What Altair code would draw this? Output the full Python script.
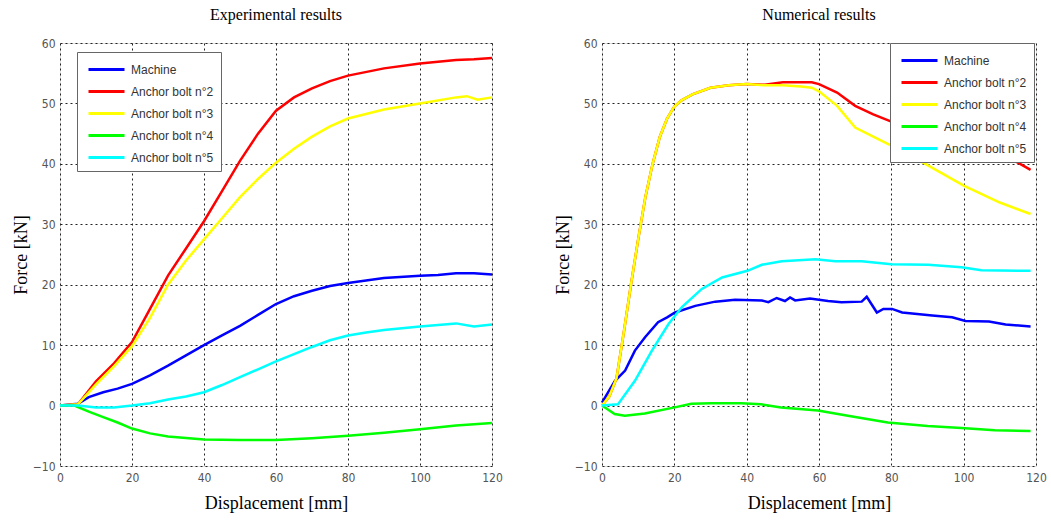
import altair as alt
import pandas as pd

SERIES = ["Machine", "Anchor bolt n°2", "Anchor bolt n°3", "Anchor bolt n°4", "Anchor bolt n°5"]
COLORS = ["#0000FF", "#FF0000", "#FFFF00", "#00FF00", "#00FFFF"]

# ---- Experimental results ----
exp_machine_x = [0, 5, 8, 12, 16, 20, 25, 30, 35, 40, 45, 50, 55, 60, 65, 70, 75, 80, 90, 100, 105, 110, 115, 120]
exp_machine_y = [0, 0.3, 1.4, 2.2, 2.8, 3.6, 5.0, 6.6, 8.3, 10.0, 11.6, 13.2, 15.0, 16.8, 18.1, 19.0, 19.8, 20.3, 21.1, 21.5, 21.6, 21.9, 21.9, 21.7]

exp_b2_x = [0, 5, 10, 15, 20, 25, 30, 35, 40, 45, 50, 55, 60, 65, 70, 75, 80, 90, 100, 110, 115, 120]
exp_b2_y = [0, 0.2, 4.0, 7.0, 10.5, 16.0, 21.5, 26.0, 30.5, 35.5, 40.5, 45.0, 48.8, 51.0, 52.5, 53.7, 54.6, 55.8, 56.6, 57.2, 57.3, 57.5]

exp_b3_x = [0, 5, 10, 15, 20, 25, 30, 35, 40, 45, 50, 55, 60, 65, 70, 75, 80, 90, 100, 110, 113, 116, 120]
exp_b3_y = [0, 0.2, 3.5, 6.5, 9.8, 14.5, 20.0, 24.0, 27.5, 31.0, 34.5, 37.5, 40.2, 42.5, 44.5, 46.2, 47.5, 49.0, 50.0, 51.0, 51.2, 50.6, 51.0]

exp_b4_x = [0, 4, 8, 12, 16, 20, 25, 30, 40, 50, 60, 70, 80, 90, 100, 110, 120]
exp_b4_y = [0, 0, -1.0, -1.9, -2.8, -3.8, -4.6, -5.1, -5.6, -5.7, -5.7, -5.4, -5.0, -4.5, -3.9, -3.3, -2.9]

exp_b5_x = [0, 5, 10, 15, 20, 25, 30, 35, 40, 45, 50, 55, 60, 65, 70, 75, 80, 85, 90, 100, 110, 115, 120]
exp_b5_y = [0, 0, -0.3, -0.3, 0, 0.4, 1.0, 1.5, 2.2, 3.4, 4.7, 6.0, 7.3, 8.5, 9.7, 10.8, 11.6, 12.1, 12.5, 13.1, 13.6, 13.1, 13.4]

# ---- Numerical results ----
num_machine_x = [0, 2, 3.6, 6.4, 9.1, 11.9, 15.5, 18, 20.2, 25.8, 31.3, 36.8, 44.2, 46, 48.3, 50.6, 52, 53.4, 57.5, 62.5, 66.2, 71.8, 73.2, 76, 77.8, 80.2, 83, 91.3, 96.8, 100.5, 107, 111.6, 118.5]
num_machine_y = [0.5, 2.5, 4.1, 5.8, 9.1, 11.3, 13.8, 14.6, 15.4, 16.5, 17.2, 17.5, 17.4, 17.1, 17.8, 17.3, 17.9, 17.4, 17.7, 17.3, 17.1, 17.2, 18.0, 15.4, 16.0, 16.0, 15.4, 14.9, 14.6, 14.0, 13.9, 13.4, 13.1]

num_b2_x = [0, 2, 4, 6, 8, 10, 12, 14, 16, 18, 20, 22, 25, 30, 35, 40, 45, 50, 55, 58, 60, 65, 70, 75, 80, 90, 100, 110, 115, 118.5]
num_b2_y = [0, 1.5, 4.5, 12.0, 20.0, 27.5, 34.5, 40.0, 44.5, 47.5, 49.5, 50.5, 51.5, 52.6, 53.0, 53.2, 53.1, 53.5, 53.5, 53.5, 53.2, 51.8, 49.6, 48.2, 47.0, 45.0, 43.5, 41.5, 40.2, 39.0]

num_b3_x = [0, 2, 4, 6, 8, 10, 12, 14, 16, 18, 20, 22, 25, 30, 35, 40, 45, 50, 55, 58, 60, 65, 70, 75, 80, 85, 90, 100, 110, 118.5]
num_b3_y = [0, 1.5, 4.5, 12.0, 20.0, 27.5, 34.5, 40.0, 44.5, 47.5, 49.5, 50.5, 51.5, 52.6, 53.0, 53.2, 53.0, 53.0, 52.8, 52.6, 52.0, 49.6, 46.0, 44.5, 43.0, 41.5, 39.8, 36.4, 33.6, 31.7]

num_b4_x = [0, 3.5, 6.3, 11.8, 20.1, 24.7, 30.2, 38.5, 44, 49.5, 59.7, 68, 79, 90, 99.4, 108.6, 118.5]
num_b4_y = [0, -1.4, -1.7, -1.3, -0.3, 0.3, 0.4, 0.4, 0.2, -0.3, -0.8, -1.7, -2.8, -3.4, -3.7, -4.1, -4.2]

num_b5_x = [0, 4.4, 9.1, 13.8, 18.4, 22.1, 27.6, 33.2, 40.2, 44.2, 49.7, 59, 64.5, 71.8, 80, 90.2, 99.4, 104.9, 118.5]
num_b5_y = [0, 0.2, 4.1, 9.1, 13.5, 16.3, 19.3, 21.2, 22.3, 23.3, 23.9, 24.2, 23.9, 23.9, 23.4, 23.3, 22.9, 22.4, 22.3]

x_ticks = [0, 20, 40, 60, 80, 100, 120]
y_ticks = [-10, 0, 10, 20, 30, 40, 50, 60]


def make_df(pairs):
    rows = []
    for name, xs, ys in pairs:
        for i, (xv, yv) in enumerate(zip(xs, ys)):
            rows.append({"series": name, "x": xv, "y": yv, "i": i})
    return pd.DataFrame(rows)


exp_df = make_df([
    (SERIES[0], exp_machine_x, exp_machine_y),
    (SERIES[1], exp_b2_x, exp_b2_y),
    (SERIES[2], exp_b3_x, exp_b3_y),
    (SERIES[3], exp_b4_x, exp_b4_y),
    (SERIES[4], exp_b5_x, exp_b5_y),
])
num_df = make_df([
    (SERIES[0], num_machine_x, num_machine_y),
    (SERIES[1], num_b2_x, num_b2_y),
    (SERIES[2], num_b3_x, num_b3_y),
    (SERIES[3], num_b4_x, num_b4_y),
    (SERIES[4], num_b5_x, num_b5_y),
])

SERIF = "Liberation Serif"
NARROW = "Liberation Sans Narrow, DejaVu Sans Condensed, sans-serif"


def panel(df, title, lx, ly, w):
    xaxis = alt.Axis(values=x_ticks, title="Displacement [mm]", titleFont=SERIF, titleFontSize=18,
                     titleFontWeight="normal", titleColor="#000", titlePadding=11,
                     labelFont=NARROW, labelFontSize=12, labelColor="#555", labelPadding=6,
                     labelFlush=False,
                     grid=True, gridDash=[2, 3], gridColor="#222", gridWidth=1,
                     domain=False, ticks=False)
    yaxis = alt.Axis(values=y_ticks, title="Force [kN]", titleFont=SERIF, titleFontSize=18,
                     titleFontWeight="normal", titleColor="#000", titlePadding=2,
                     labelFont=NARROW, labelFontSize=12, labelColor="#555", labelPadding=5,
                     labelFlush=False,
                     grid=True, gridDash=[2, 3], gridColor="#222", gridWidth=1,
                     domain=False, ticks=False)
    legend = alt.Legend(title=None, orient="none", legendX=lx, legendY=ly,
                        symbolType="M-2,0H2", symbolSize=324, symbolStrokeWidth=3,
                        symbolOffset=12,
                        labelFont="Liberation Sans, Arial, sans-serif", labelFontSize=12,
                        labelColor="#333", fillColor="white", strokeColor="#666",
                        padding=7, rowPadding=5, labelOffset=14)
    return alt.Chart(df).mark_line(strokeWidth=2.5).encode(
        x=alt.X("x:Q", scale=alt.Scale(domain=[0, 120], nice=False, zero=False), axis=xaxis),
        y=alt.Y("y:Q", scale=alt.Scale(domain=[-10, 60], nice=False, zero=False), axis=yaxis),
        color=alt.Color("series:N", scale=alt.Scale(domain=SERIES, range=COLORS), legend=legend),
        order=alt.Order("i:Q"),
    ).properties(
        width=w, height=423,
        title=alt.TitleParams(title, font=SERIF, fontSize=16, fontWeight="normal", color="#000", offset=14),
    )


left = panel(exp_df, "Experimental results", 17, 9, 432)
right = panel(num_df, "Numerical results", 288, 0, 434)

chart = alt.hconcat(left, right, spacing=50).resolve_legend(color="independent").resolve_scale(
    color="independent"
).properties(padding={"left": 11, "top": 6, "right": 0, "bottom": 4}).configure_view(
    stroke="#888", strokeWidth=2
).configure(background="white")

chart.save("out.html", embed_options={"renderer": "svg", "actions": False})
